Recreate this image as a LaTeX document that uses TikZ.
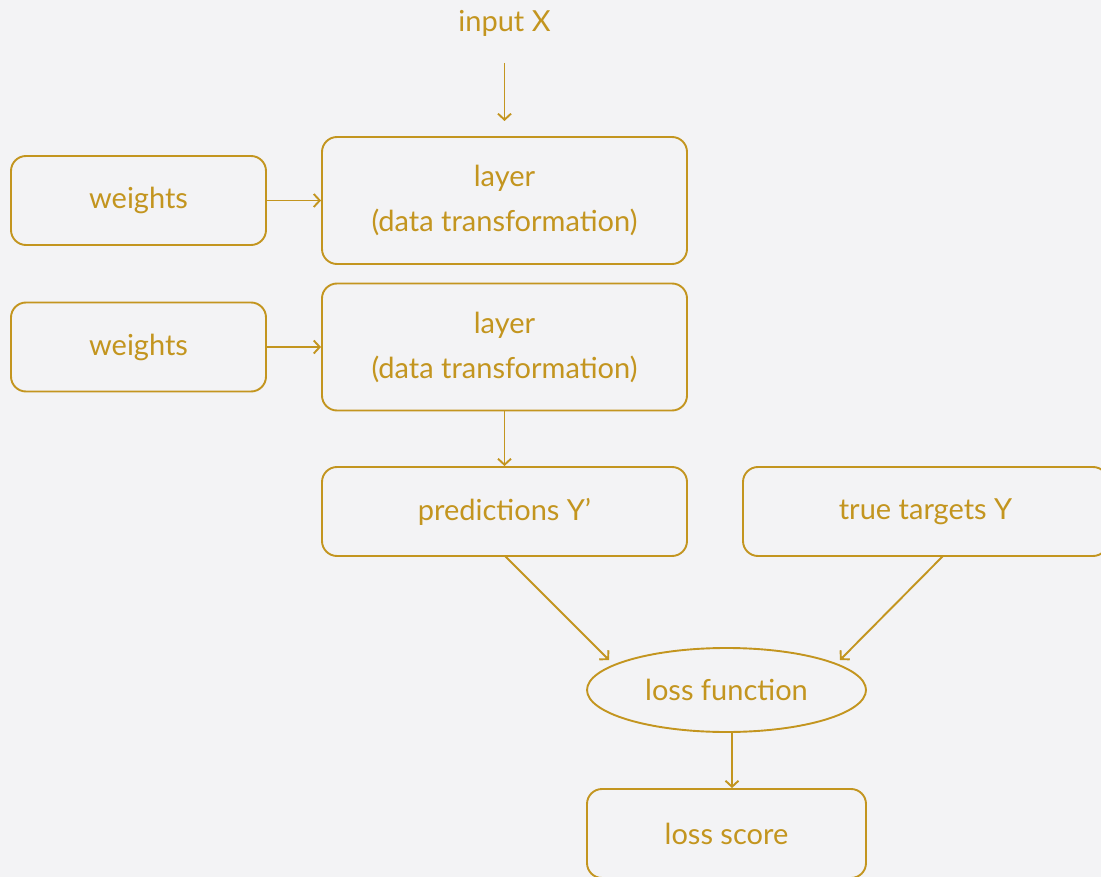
\documentclass[tikz,border=0pt]{standalone}
\usepackage{fontspec}
\setmainfont{Lato}
\usetikzlibrary{arrows.meta,shapes.geometric}
\definecolor{gold}{HTML}{C3951F}
\definecolor{bg}{HTML}{F3F3F5}
\begin{document}
\begin{tikzpicture}[x=1pt,y=-1pt,
  box/.style={draw=gold,line width=1.9pt,rounded corners=15pt,text=gold,align=center,inner sep=0pt,font=\fontsize{29}{45}\selectfont},
  oval/.style={draw=gold,line width=1.9pt,ellipse,text=gold,inner sep=0pt,font=\fontsize{29}{34}\selectfont},
  lbl/.style={text=gold,font=\fontsize{29}{34}\selectfont},
  conn/.style={draw=gold,line width=1.9pt,-{Straight Barb[length=6pt,width=13pt,line width=1.9pt]}}]
\fill[bg] (0,0) rectangle (1101,877);
\clip (0,0) rectangle (1101,877);
\useasboundingbox (0,0) rectangle (1101,877);
\node[lbl] (in) at (504.5,23) {input X};
\coordinate (ins) at (504.5,63);
\coordinate (ine) at (504.5,121);
\node[box,minimum width=255pt,minimum height=89pt] (w1) at (138.5,200.5) {weights};
\node[box,minimum width=365pt,minimum height=127pt] (l1) at (504.5,200.5) {layer\\(data transformation)};
\node[box,minimum width=255pt,minimum height=89pt] (w2) at (138.5,347) {weights};
\node[box,minimum width=365pt,minimum height=127pt] (l2) at (504.5,347) {layer\\(data transformation)};
\node[box,minimum width=365pt,minimum height=89pt] (pr) at (504.5,511.5) {predictions Y’};
\node[box,minimum width=365pt,minimum height=89pt] (tt) at (925.5,511.5) {true targets Y};
\node[oval,minimum width=279pt,minimum height=84pt] (lf) at (726.5,690) {loss function};
\node[box,minimum width=279pt,minimum height=89pt] (ls) at (726.5,833.5) {loss score};
\coordinate (prs) at (505,556);
\coordinate (pre) at (609,660);
\coordinate (tts) at (943,556);
\coordinate (tte) at (840,660);
\draw[conn] (ins) -- (ine);
\draw[conn] (w1.east) -- (l1.west);
\draw[conn] (w2.east) -- (l2.west);
\draw[conn] (l2.south) -- (pr.north);
\draw[conn] (prs) -- (pre);
\draw[conn] (tts) -- (tte);
\draw[conn] (lf.south -| 732,0) -- (ls.north -| 732,0);
\end{tikzpicture}
\end{document}
